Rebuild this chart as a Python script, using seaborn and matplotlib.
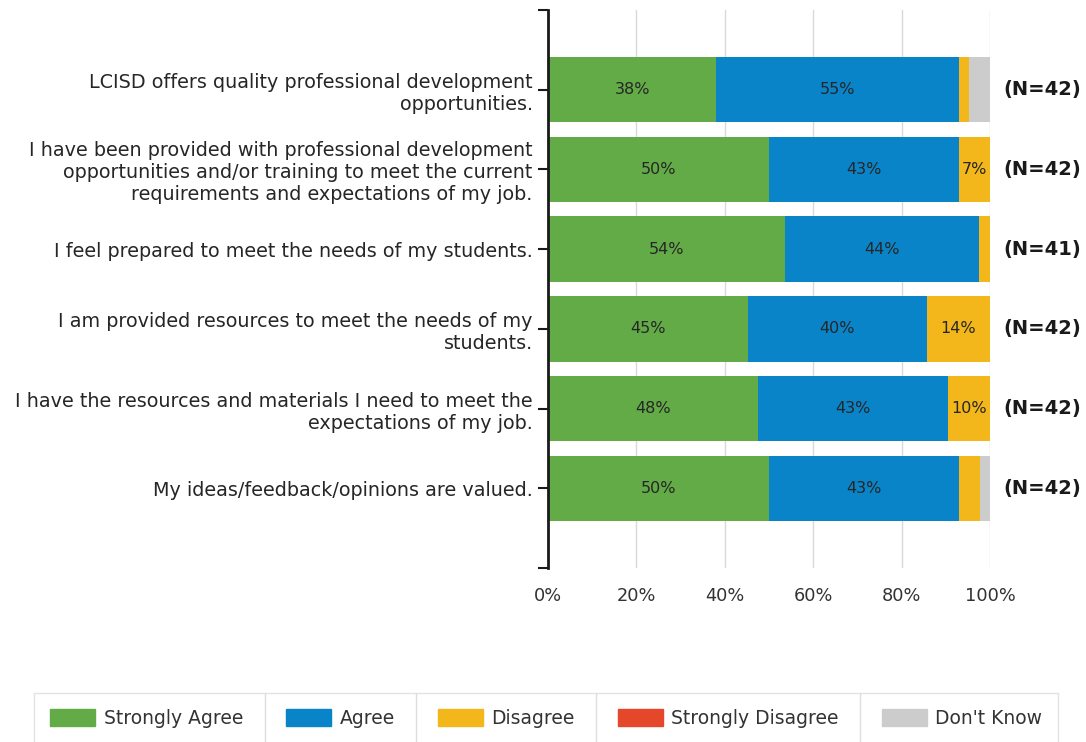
import matplotlib
matplotlib.use('Agg')
import matplotlib.pyplot as plt
from matplotlib.lines import Line2D
from matplotlib.patches import Patch
import pandas as pd
import seaborn as sns

questions = ['LCISD offers quality professional development\nopportunities.',
             'I have been provided with professional development\nopportunities and/or training to meet the current\nrequirements and expectations of my job.',
             'I feel prepared to meet the needs of my students.',
             'I am provided resources to meet the needs of my\nstudents.',
             'I have the resources and materials I need to meet the\nexpectations of my job.',
             'My ideas/feedback/opinions are valued.']

strongly_agree = [38.1, 50.0, 53.7, 45.2, 47.6, 50.0]
agree = [54.8, 42.9, 43.9, 40.5, 42.9, 42.9]
disagree = [2.4, 7.1, 2.4, 14.3, 9.5, 4.8]
strongly_disagree = [0, 0, 0, 0, 0, 0]
dont_know = [4.8, 0, 0, 0, 0, 2.4]
n_resp = [42, 42, 41, 42, 42, 42]

responses = ['Strongly Agree', 'Agree', 'Disagree', 'Strongly Disagree', "Don't Know"]
colors = ['#62ab47', '#0a84c9', '#f4b71b', '#e5472a', '#cccccc']

df = pd.DataFrame({'question': questions,
                   'Strongly Agree': strongly_agree,
                   'Agree': agree,
                   'Disagree': disagree,
                   'Strongly Disagree': strongly_disagree,
                   "Don't Know": dont_know})
cum = df[responses].cumsum(axis=1)

sns.set_style('white')
plt.rcParams['font.family'] = ['DejaVu Sans']

fig = plt.figure(figsize=(10.86, 7.42), dpi=100)
ax = fig.add_axes([0.5046, 0.2345, 0.407, 0.752])

# stacked bars: draw the outer cumulative first, inner ones on top
for resp, col in reversed(list(zip(responses, colors))):
    sns.barplot(x=cum[resp], y=df['question'], color=col, width=0.82,
                orient='h', ax=ax, zorder=2, saturation=1, linewidth=0)

# percentage labels in the segments
for i in range(len(df)):
    for resp in responses:
        val = df.loc[i, resp]
        if val >= 5:
            ax.text(cum.loc[i, resp] - val / 2, i, f'{val:.0f}%', ha='center', va='center',
                    fontsize=11.5, color='#262626', zorder=3)
    ax.text(103, i, f'(N={n_resp[i]})', ha='left', va='center', fontsize=14,
            fontweight='bold', color='#1a1a1a', clip_on=False)

ax.set_xlim(0, 100)
ax.set_ylim(6, -1)
ax.set_xticks([0, 20, 40, 60, 80, 100])
ax.set_xticklabels([f'{t}%' for t in [0, 20, 40, 60, 80, 100]])
ax.set_xlabel('')
ax.set_ylabel('')
ax.grid(axis='x', color='#d9d9d9', linewidth=1, zorder=0)
ax.grid(axis='y', visible=False)
ax.set_axisbelow(True)

for s in ['top', 'right', 'bottom']:
    ax.spines[s].set_visible(False)
ax.spines['left'].set_color('#1a1a1a')
ax.spines['left'].set_linewidth(2)
ax.spines['left'].set_zorder(4)
ax.set_yticks([-1, 6], minor=True)
ax.tick_params(axis='y', which='both', left=True, length=7, width=1.5, color='#1a1a1a',
               labelsize=13.8, labelcolor='#262626', pad=4)
ax.tick_params(axis='x', length=0, labelsize=12.8, labelcolor='#333333', pad=14)

handles = [Patch(facecolor=c, edgecolor=c) for c in colors]
leg = fig.legend(handles, responses, loc='center', bbox_to_anchor=(0.503, 0.032), ncol=5,
                 frameon=True, fancybox=False, edgecolor='#dddddd', fontsize=13.5,
                 handlelength=2.4, handleheight=1.05, handletextpad=0.45,
                 columnspacing=2.3, borderpad=0.85, labelcolor='#333333')
leg.get_frame().set_linewidth(1)

# vertical separators between legend entries
fig.canvas.draw()
r = fig.canvas.get_renderer()
W, H = fig.bbox.width, fig.bbox.height
fb = leg.get_frame().get_window_extent(r)
texts = leg.get_texts()
hs = leg.legend_handles
for i in range(len(texts) - 1):
    x = (texts[i].get_window_extent(r).x1 + hs[i + 1].get_window_extent(r).x0) / 2
    fig.add_artist(Line2D([x / W, x / W], [fb.y0 / H, fb.y1 / H], color='#dddddd', lw=1,
                          transform=fig.transFigure, zorder=10))

fig.savefig('out.png', dpi=100)
